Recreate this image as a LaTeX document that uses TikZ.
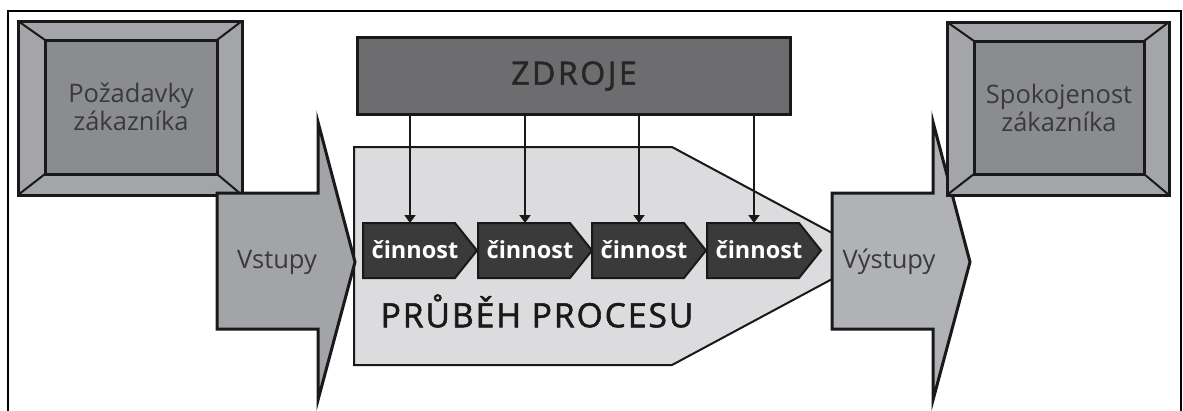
\documentclass[tikz,border=0pt]{standalone}
\usepackage{fontspec}
\setmainfont{Open Sans}
\newfontfamily\headfont[FakeBold=1.6]{Open Sans}
\usetikzlibrary{calc,arrows.meta}

\definecolor{bevelout}{HTML}{A4A5A9}
\definecolor{bevelin}{HTML}{8B8C90}
\definecolor{zdrojfill}{HTML}{6D6D6F}
\definecolor{vstupfill}{HTML}{A3A4A8}
\definecolor{vystupfill}{HTML}{B0B2B6}
\definecolor{procfill}{HTML}{DCDCDE}
\definecolor{cinfill}{HTML}{3A3A3A}
\definecolor{txtgray}{HTML}{3A3A3C}

\tikzset{
  bevel/.style={draw=black!90,line width=3pt},
  blockarrow/.style={draw=black!90,line width=3pt,line join=miter},
  zklabel/.style={text=txtgray,font=\fontsize{25.5}{28}\selectfont,align=center},
  cinbox/.style={draw=black!90,line width=2pt,fill=cinfill,line join=miter},
  cinlabel/.style={text=white,font=\bfseries\fontsize{23.5}{25}\selectfont},
  feed/.style={draw=black!90,line width=2pt,-{Triangle[length=8pt,width=11pt]}}
}

% framed box with bevelled corners
\newcommand{\zakbox}[4]{%
  \coordinate (#1-nw) at #2;
  \coordinate (#1-se) at #3;
  \coordinate (#1-inw) at ($(#1-nw)+(27,19)$);
  \coordinate (#1-ise) at ($(#1-se)+(-25,-21)$);
  \draw[bevel,fill=bevelout] (#1-nw) rectangle (#1-se);
  \draw[black!90,line width=2pt] (#1-nw) -- (#1-inw)
     (#1-nw -| #1-se) -- (#1-inw -| #1-ise)
     (#1-se) -- (#1-ise)
     (#1-nw |- #1-se) -- (#1-inw |- #1-ise);
  \draw[bevel,fill=bevelin] (#1-inw) rectangle (#1-ise);
  \node[zklabel] (#1) at ($(#1-inw)!0.5!(#1-ise)$) {#4};
}

\begin{document}
\begin{tikzpicture}[x=1pt,y=-1pt]
  \useasboundingbox (0,0) rectangle (1183,410);
  \draw[line width=1.5pt] (8,420) -- (8,11) -- (1181,11) -- (1181,420);

  % process body
  \draw[line width=2pt,draw=black!90,fill=procfill]
    (354,147) -- (672,147) -- (875,256) -- (672,365) -- (354,365) -- cycle;
  \node[text=black!90,font=\headfont\fontsize{33.5}{35}\selectfont\addfontfeature{LetterSpace=6}]
    (prubeh) at (537,311) {PRŮBĚH PROCESU};

  % resources
  \node[draw=black!90,line width=3pt,fill=zdrojfill,minimum width=433pt,
    minimum height=77pt,text=black!85,font=\headfont\fontsize{32}{34}\selectfont\addfontfeature{LetterSpace=8}]
    (zdroje) at (574,76) {ZDROJE};

  % activities
  \foreach \i/\x in {1/363,2/478,3/592,4/707}{
    \draw[cinbox] (\x,223) -- (\x+92,223) -- (\x+114,250.5)
      -- (\x+92,278) -- (\x,278) -- cycle;
    \node[cinlabel] (c\i) at (\x+52,250) {činnost};
    \coordinate (c\i-top) at (\x+47,223);
    \draw[feed] (zdroje.south -| c\i-top) -- (c\i-top);
  }

  \zakbox{pozad}{(18,21)}{(242,195)}{Požadavky\\zákazníka}

  % inputs and outputs
  \draw[blockarrow,fill=vstupfill] (217,193) -- (318,193) -- (318,122)
    -- (355,262) -- (318,400) -- (318,329) -- (217,329) -- cycle;
  \node[zklabel] (vstupy) at (277,262) {Vstupy};

  \draw[blockarrow,fill=vystupfill] (832,193) -- (933,193) -- (933,122)
    -- (970,262) -- (933,400) -- (933,329) -- (832,329) -- cycle;
  \node[zklabel] (vystupy) at (889,262) {Výstupy};

  \zakbox{spokoj}{(947,22)}{(1169,195)}{Spokojenost\\zákazníka}
\end{tikzpicture}
\end{document}
